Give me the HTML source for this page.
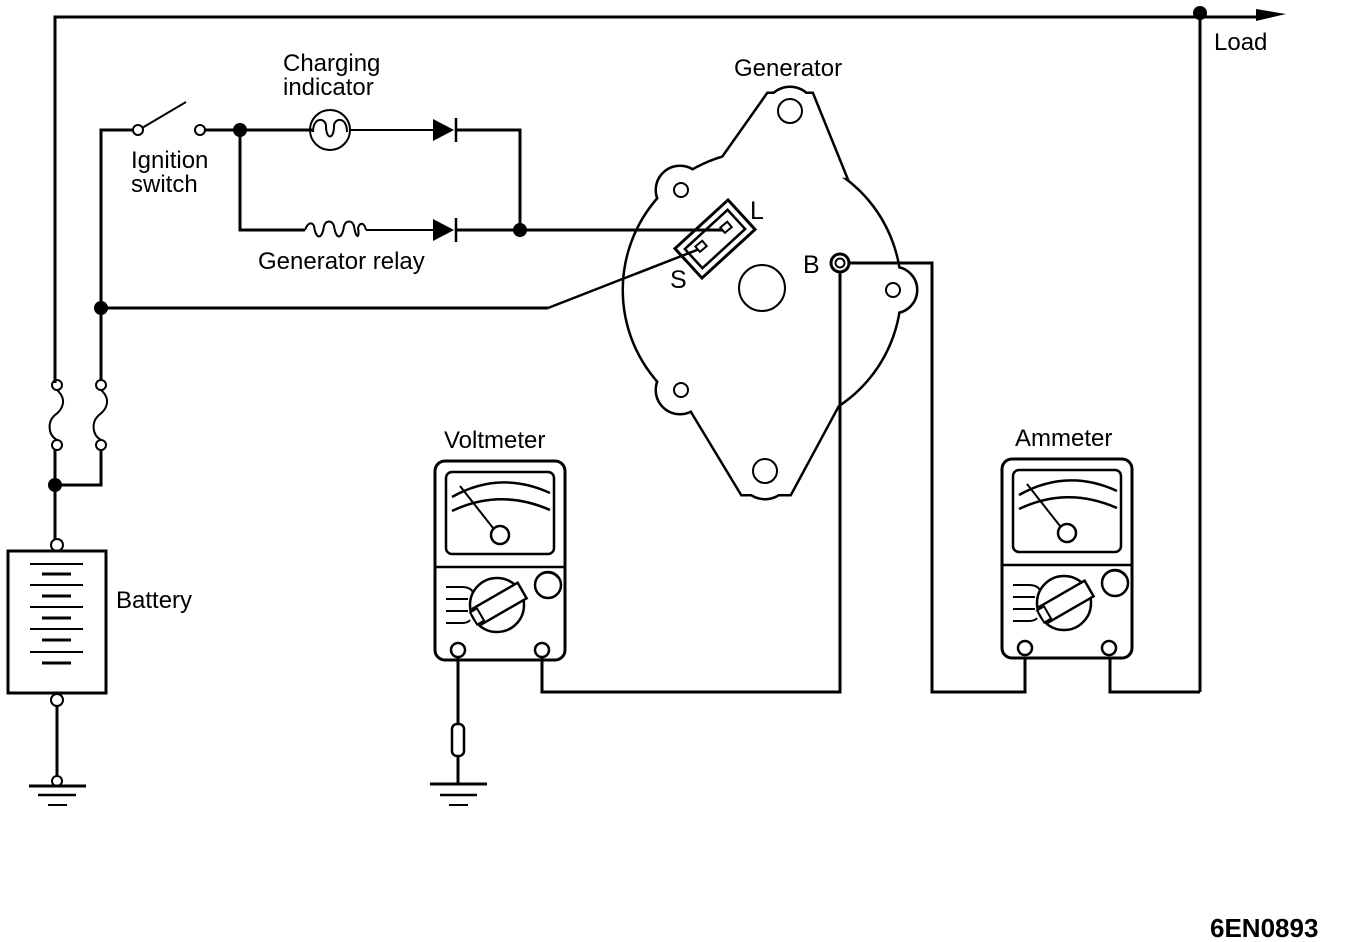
<!DOCTYPE html>
<html><head><meta charset="utf-8"><style>
html,body{margin:0;padding:0;background:#fff;}
svg{display:block;}
text{font-family:"Liberation Sans",sans-serif;fill:#000;}
</style></head><body>
<svg width="1360" height="942" viewBox="0 0 1360 942" xmlns="http://www.w3.org/2000/svg">
<defs>
<g id="meter" fill="none" stroke="#000">
  <rect x="435" y="461" width="130" height="199" rx="10" stroke-width="3"/>
  <rect x="446" y="472" width="108" height="82" rx="6" stroke-width="2.5"/>
  <line x1="436" y1="567" x2="564" y2="567" stroke-width="2.5"/>
  <path d="M452 497 Q500 470 550 493" stroke-width="2.5"/>
  <path d="M452 511 Q500 488 550 510" stroke-width="2.5"/>
  <line x1="460" y1="486" x2="493" y2="528" stroke-width="2"/>
  <circle cx="500" cy="535" r="9" fill="#fff" stroke-width="2.5"/>
  <circle cx="548" cy="585" r="13" stroke-width="2.5"/>
  <path d="M535 583 A13 13 0 0 1 558 578" stroke-width="1.5"/>
  <circle cx="497" cy="605" r="27" stroke-width="2.5"/>
  <g transform="rotate(-30 497 605)">
    <rect x="474" y="596" width="52" height="18" fill="#fff" stroke-width="2.5"/>
    <rect x="470" y="598" width="8" height="14" fill="#fff" stroke-width="2"/>
  </g>
  <path d="M446 587 H462 Q470 587 473 592" stroke-width="2"/>
  <line x1="446" y1="599" x2="468" y2="599" stroke-width="2"/>
  <line x1="446" y1="611" x2="468" y2="611" stroke-width="2"/>
  <path d="M446 623 H462 Q468 623 470 620" stroke-width="2"/>
  <circle cx="458" cy="650" r="7" fill="#fff" stroke-width="2.5"/>
  <circle cx="542" cy="650" r="7" fill="#fff" stroke-width="2.5"/>
</g>
</defs>

<g fill="none" stroke="#000" stroke-width="3">
  <polyline points="55,383 55,17 1260,17"/>
  <polygon points="1256,9 1286,14 1256,21" fill="#000" stroke="none"/>
  <line x1="1200" y1="14" x2="1200" y2="692"/>
  <polyline points="1110,657 1110,692 1200,692"/>
  <circle cx="57" cy="385" r="5" stroke-width="2"/>
  <circle cx="57" cy="445" r="5" stroke-width="2"/>
  <path d="M57 390 C68 400,62 410,55 415 C47 422,48 435,57 440" stroke-width="2"/>
  <circle cx="101" cy="385" r="5" stroke-width="2"/>
  <circle cx="101" cy="445" r="5" stroke-width="2"/>
  <path d="M101 390 C112 400,106 410,99 415 C91 422,92 435,101 440" stroke-width="2"/>
  <line x1="55" y1="450" x2="55" y2="540"/>
  <polyline points="101,450 101,485 55,485"/>
  <polyline points="101,380 101,130 132,130"/>
  <circle cx="138" cy="130" r="5" stroke-width="2"/>
  <line x1="142" y1="128" x2="186" y2="102" stroke-width="2"/>
  <circle cx="200" cy="130" r="5" stroke-width="2"/>
  <line x1="205" y1="130" x2="312" y2="130"/>
  <circle cx="330" cy="130" r="20" stroke-width="2"/>
  <path d="M313 132 C313 116,326 118,326 126 C326 140,334 140,334 126 C334 118,347 116,347 132" stroke-width="2"/>
  <line x1="349" y1="130" x2="435" y2="130" stroke-width="2"/>
  <polyline points="455,130 520,130 520,230"/>
  <polyline points="240,130 240,230 305,230"/>
  <path d="M305 230 C308 222,312 222,314 226 C316 240,322 240,324 226 C326 220,332 220,334 226 C336 240,342 240,344 226 C346 220,352 220,354 226 C356 240,360 238,358 228 C360 222,364 222,366 230" stroke-width="2"/>
  <line x1="366" y1="230" x2="435" y2="230" stroke-width="2"/>
  <line x1="101" y1="308" x2="548" y2="308"/>
</g>
<polygon points="433,119 433,141 454,130" fill="#000"/>
<line x1="456" y1="118" x2="456" y2="142" stroke="#000" stroke-width="2.5"/>
<polygon points="433,219 433,241 454,230" fill="#000"/>
<line x1="456" y1="218" x2="456" y2="242" stroke="#000" stroke-width="2.5"/>
<g fill="#000">
  <circle cx="1200" cy="13" r="7"/>
  <circle cx="240" cy="130" r="7"/>
  <circle cx="101" cy="308" r="7"/>
  <circle cx="55" cy="485" r="7"/>
</g>

<!-- generator -->
<g stroke="#000" stroke-width="5" fill="#000">
  <polygon points="720,162 768,94 812,94 846,178"/>
  <circle cx="790" cy="112" r="24"/>
  <polygon points="690,408 742,494 790,494 838,405"/>
  <circle cx="765" cy="474" r="24"/>
  <circle cx="680" cy="190" r="23"/>
  <circle cx="894" cy="290" r="22"/>
  <circle cx="680" cy="390" r="23"/>
  <circle cx="762" cy="290" r="138"/>
</g>
<g fill="#fff">
  <polygon points="720,162 768,94 812,94 846,178"/>
  <circle cx="790" cy="112" r="24"/>
  <polygon points="690,408 742,494 790,494 838,405"/>
  <circle cx="765" cy="474" r="24"/>
  <circle cx="680" cy="190" r="23"/>
  <circle cx="894" cy="290" r="22"/>
  <circle cx="680" cy="390" r="23"/>
  <circle cx="762" cy="290" r="138"/>
</g>
<g fill="none" stroke="#000" stroke-width="2">
  <circle cx="790" cy="111" r="12"/>
  <circle cx="765" cy="471" r="12"/>
  <circle cx="681" cy="190" r="7"/>
  <circle cx="893" cy="290" r="7"/>
  <circle cx="681" cy="390" r="7"/>
  <circle cx="762" cy="288" r="23"/>
</g>
<g transform="translate(715,239) rotate(-42.5)" fill="none" stroke="#000" stroke-width="3">
  <rect x="-36" y="-20" width="72" height="40"/>
  <rect x="-29" y="-13" width="58" height="26" stroke-width="2.5"/>
</g>
<line x1="455" y1="230" x2="724" y2="230" stroke="#000" stroke-width="3"/>
<line x1="548" y1="308" x2="702" y2="248" stroke="#000" stroke-width="2.5"/>
<circle cx="520" cy="230" r="7" fill="#000"/>
<rect x="722" y="224" width="9" height="7" transform="rotate(-40 726 228)" fill="#fff" stroke="#000" stroke-width="2"/>
<rect x="697" y="243" width="9" height="7" transform="rotate(-40 701 247)" fill="#fff" stroke="#000" stroke-width="2"/>
<g fill="none" stroke="#000" stroke-width="3">
  <polyline points="840,263 932,263 932,692 1025,692 1025,657"/>
  <polyline points="840,263 840,692 542,692 542,657"/>
  <circle cx="840" cy="263" r="9" fill="#fff"/>
  <circle cx="840" cy="263" r="4.5" stroke-width="2"/>
</g>

<use href="#meter"/>
<use href="#meter" transform="translate(567,-2)"/>

<g fill="none" stroke="#000" stroke-width="3">
  <line x1="458" y1="657" x2="458" y2="724"/>
  <rect x="452" y="724" width="12" height="32" rx="5" stroke-width="2.5"/>
  <line x1="458" y1="756" x2="458" y2="784"/>
  <line x1="430" y1="784" x2="487" y2="784"/>
  <line x1="440" y1="795" x2="477" y2="795" stroke-width="2.5"/>
  <line x1="449" y1="805" x2="468" y2="805" stroke-width="2"/>
</g>

<g fill="none" stroke="#000" stroke-width="3">
  <circle cx="57" cy="545" r="6" stroke-width="2"/>
  <rect x="8" y="551" width="98" height="142"/>
  <circle cx="57" cy="700" r="6" stroke-width="2"/>
  <line x1="57" y1="706" x2="57" y2="776"/>
  <circle cx="57" cy="781" r="5" stroke-width="2"/>
  <line x1="29" y1="786" x2="86" y2="786"/>
  <line x1="38" y1="795" x2="76" y2="795" stroke-width="2.5"/>
  <line x1="48" y1="805" x2="67" y2="805" stroke-width="2"/>
</g>
<g stroke="#000">
  <line x1="30" y1="564" x2="83" y2="564" stroke-width="2"/>
  <line x1="42" y1="574" x2="71" y2="574" stroke-width="3"/>
  <line x1="30" y1="585" x2="83" y2="585" stroke-width="2"/>
  <line x1="42" y1="596" x2="71" y2="596" stroke-width="3"/>
  <line x1="30" y1="607" x2="83" y2="607" stroke-width="2"/>
  <line x1="42" y1="618" x2="71" y2="618" stroke-width="3"/>
  <line x1="30" y1="629" x2="83" y2="629" stroke-width="2"/>
  <line x1="42" y1="640" x2="71" y2="640" stroke-width="3"/>
  <line x1="30" y1="652" x2="83" y2="652" stroke-width="2"/>
  <line x1="42" y1="663" x2="71" y2="663" stroke-width="3"/>
</g>

<g font-size="24">
  <text x="1214" y="50">Load</text>
  <text x="283" y="71">Charging</text>
  <text x="283" y="95">indicator</text>
  <text x="734" y="76">Generator</text>
  <text x="131" y="168">Ignition</text>
  <text x="131" y="192">switch</text>
  <text x="258" y="269">Generator relay</text>
  <text x="750" y="219" font-size="25">L</text>
  <text x="670" y="288" font-size="25">S</text>
  <text x="803" y="273" font-size="25">B</text>
  <text x="444" y="448">Voltmeter</text>
  <text x="1015" y="446">Ammeter</text>
  <text x="116" y="608">Battery</text>
  <text x="1210" y="937" font-weight="bold" font-size="26">6EN0893</text>
</g>
</svg>
</body></html>
